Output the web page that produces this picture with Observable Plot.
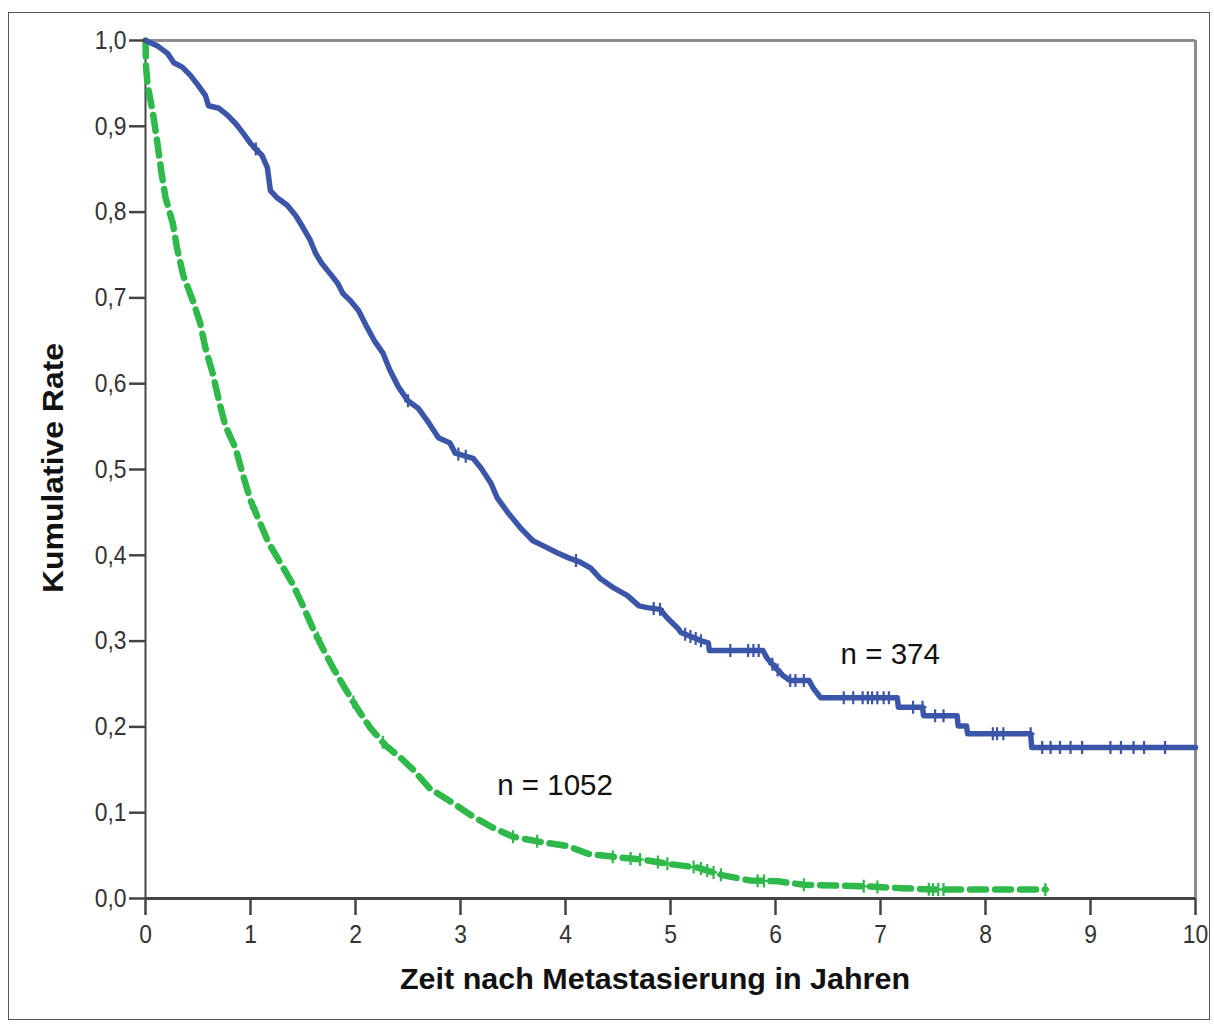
<!DOCTYPE html>
<html><head><meta charset="utf-8">
<script src="https://cdn.jsdelivr.net/npm/d3@7"></script>
<script src="https://cdn.jsdelivr.net/npm/@observablehq/plot@0.6"></script>
<style>html,body{margin:0;padding:0;background:#fff;} #chart{position:relative;width:1214px;height:1027px;}</style>
</head><body><div id="chart"></div>
<script>
// ---- data ----
const xTicks = [0,1,2,3,4,5,6,7,8,9,10];
const yTicks = [0,0.1,0.2,0.3,0.4,0.5,0.6,0.7,0.8,0.9,1.0];

const blueTime = [0,0.11,0.21,0.27,0.35,0.43,0.5,0.57,0.6,0.7,0.78,0.86,0.93,1.0,1.11,1.16,1.19,1.25,1.35,1.43,1.5,1.57,1.62,1.68,1.76,1.83,1.88,1.95,2.03,2.1,2.18,2.26,2.33,2.41,2.5,2.6,2.7,2.79,2.9,2.95,3.12,3.2,3.29,3.35,3.45,3.57,3.69,3.79,3.92,4.03,4.14,4.24,4.33,4.46,4.59,4.7,4.78,4.9,4.97,5.07,5.1,5.2,5.3,5.36,5.37,5.88,5.92,6.0,6.07,6.14,6.32,6.36,6.43,7.16,7.17,7.4,7.41,7.73,7.74,7.82,7.83,8.43,8.44,10];
const blueRate = [1,0.994,0.985,0.974,0.969,0.959,0.948,0.936,0.924,0.921,0.913,0.903,0.892,0.88,0.866,0.852,0.825,0.817,0.808,0.796,0.782,0.767,0.752,0.74,0.728,0.717,0.705,0.697,0.685,0.668,0.65,0.636,0.615,0.596,0.58,0.571,0.554,0.537,0.531,0.519,0.513,0.501,0.484,0.467,0.45,0.432,0.417,0.411,0.403,0.397,0.392,0.385,0.373,0.362,0.353,0.341,0.339,0.337,0.327,0.315,0.31,0.305,0.3,0.298,0.289,0.289,0.28,0.269,0.26,0.254,0.254,0.245,0.234,0.234,0.223,0.223,0.213,0.213,0.201,0.201,0.192,0.192,0.176,0.176];

const greenTime = [0,0.005,0.02,0.07,0.11,0.15,0.19,0.26,0.30,0.36,0.45,0.52,0.57,0.64,0.70,0.76,0.86,0.92,1.0,1.08,1.17,1.29,1.4,1.5,1.59,1.69,1.79,1.9,2.02,2.14,2.29,2.43,2.55,2.71,2.93,3.1,3.3,3.5,3.76,4.02,4.22,4.5,4.75,5.0,5.26,5.5,5.76,6.02,6.27,6.6,6.88,7.2,7.5,8.57];
const greenRate = [1,0.97,0.948,0.916,0.883,0.848,0.817,0.787,0.758,0.726,0.697,0.671,0.642,0.612,0.58,0.551,0.524,0.497,0.464,0.441,0.415,0.39,0.367,0.341,0.316,0.291,0.268,0.245,0.221,0.199,0.178,0.164,0.15,0.128,0.111,0.097,0.083,0.072,0.066,0.061,0.052,0.048,0.045,0.04,0.036,0.027,0.021,0.02,0.016,0.015,0.014,0.012,0.0105,0.0105];

const blueCensor = [1.05,2.5,2.98,3.05,4.1,4.84,4.9,5.14,5.19,5.24,5.29,5.57,5.74,5.79,5.84,5.97,6.02,6.14,6.19,6.27,6.65,6.74,6.83,6.88,6.92,6.97,7.03,7.08,7.31,7.4,7.52,7.6,8.07,8.11,8.17,8.43,8.54,8.62,8.71,8.81,8.92,9.19,9.29,9.41,9.51,9.71];
const greenCensor = [1.03,1.64,1.98,2.26,3.5,3.73,4.45,4.62,4.71,4.88,4.97,5.22,5.29,5.35,5.41,5.48,5.83,5.89,6.27,6.84,6.97,7.46,7.5,7.55,7.6,8.57];

const labelText = ["n = 374", "n = 1052"];
const labelTime = [6.62, 3.35];
const labelRate = [0.284, 0.1317];

const xTitle = "Zeit nach Metastasierung in Jahren";
const yTitle = "Kumulative Rate";

// ---- build tables ----
const blue = blueTime.map((t,i) => ({t, r: blueRate[i]}));
const green = greenTime.map((t,i) => ({t, r: greenRate[i]}));
function onCurve(T, R, t) {
  const i = d3.bisectRight(T, t);
  if (i <= 0) return R[0];
  if (i >= T.length) return R[R.length-1];
  const t0 = T[i-1], t1 = T[i];
  if (t1 === t0) return R[i];
  return R[i-1] + (R[i]-R[i-1]) * (t - t0) / (t1 - t0);
}
const blueC = blueCensor.map(t => ({t, r: onCurve(blueTime, blueRate, t)}));
const greenC = greenCensor.map(t => ({t, r: onCurve(greenTime, greenRate, t)}));
const labels = labelText.map((s,i) => ({s, t: labelTime[i], r: labelRate[i]}));

const BLUE = "#3b55a8", GREEN = "#30b94b";
const censorSymbol = {draw(ctx, size){ const r = Math.sqrt(size/Math.PI); ctx.moveTo(0,-r); ctx.lineTo(0,r); ctx.moveTo(-r*0.6,0); ctx.lineTo(r*0.6,0); }};
const FONT = "'Liberation Sans', Arial, Helvetica, sans-serif";

const svg = Plot.plot({
  width: 1214, height: 1027,
  marginLeft: 145, marginRight: 19, marginTop: 40, marginBottom: 129,
  style: {fontFamily: FONT, background: "#fff", overflow: "visible"},
  x: {domain: [0,10]},
  y: {domain: [0,1]},
  marks: [
    Plot.ruleY([1], {stroke: "#8c8c8c", strokeWidth: 3}),
    Plot.ruleX([10], {stroke: "#8c8c8c", strokeWidth: 3}),
    Plot.ruleY([0], {stroke: "#444", strokeWidth: 3}),
    Plot.ruleX([0], {stroke: "#444", strokeWidth: 2}),
    Plot.line(green, {x: "t", y: "r", stroke: GREEN, strokeWidth: 6.5, strokeDasharray: "16,9", strokeLinejoin: "round"}),
    Plot.dot(greenC, {x: "t", y: "r", symbol: censorSymbol, r: 6.5, stroke: GREEN, strokeWidth: 2.2, fill: "none"}),
    Plot.line(blue, {x: "t", y: "r", stroke: BLUE, strokeWidth: 5.5, strokeLinejoin: "round"}),
    Plot.dot(blueC, {x: "t", y: "r", symbol: censorSymbol, r: 6.5, stroke: BLUE, strokeWidth: 2.2, fill: "none"}),
    Plot.text(labels, {x: "t", y: "r", text: "s", textAnchor: "start", lineAnchor: "middle", fontSize: 29.5, fill: "#111"}),
    Plot.axisX({ticks: xTicks, tickFormat: d => String(d), tickSize: 17, tickPadding: 9, fontSize: 26, label: null, stroke: "#444", strokeWidth: 2.5, fill: "#333"}),
    Plot.axisY({ticks: yTicks, tickFormat: d => d.toFixed(1).replace(".", ","), tickSize: 16, tickPadding: 3, fontSize: 26, label: null, stroke: "#444", strokeWidth: 2.5, fill: "#333"})
  ]
});
document.getElementById("chart").append(svg);

// narrow the tick label glyphs to match reference proportions
d3.select(svg).selectAll('g[aria-label$="tick label"] text').each(function(){
  const L = this.getComputedTextLength();
  this.setAttribute("textLength", (L*0.88).toFixed(1));
  this.setAttribute("lengthAdjust", "spacingAndGlyphs");
});

const s = d3.select(svg);
s.append("text").text(xTitle)
  .attr("x", 655).attr("y", 989).attr("text-anchor", "middle")
  .attr("font-family", FONT).attr("font-weight", "bold").attr("font-size", 30)
  .attr("fill", "#111").attr("textLength", 510).attr("lengthAdjust", "spacingAndGlyphs");
s.append("text").text(yTitle)
  .attr("transform", "translate(63,468) rotate(-90)").attr("text-anchor", "middle")
  .attr("font-family", FONT).attr("font-weight", "bold").attr("font-size", 30)
  .attr("fill", "#111").attr("textLength", 250).attr("lengthAdjust", "spacingAndGlyphs");
s.append("rect").attr("x", 8.5).attr("y", 12.5).attr("width", 1201).attr("height", 1007)
  .attr("fill", "none").attr("stroke", "#555").attr("stroke-width", 1);
</script>
</body></html>
